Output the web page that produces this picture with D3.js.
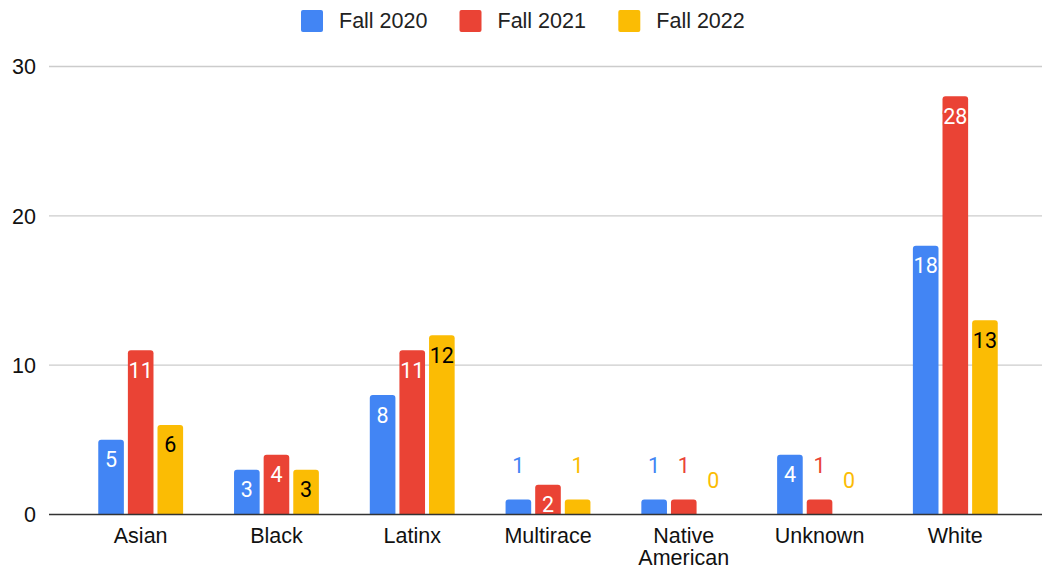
<!DOCTYPE html>
<html>
<head>
<meta charset="utf-8">
<script src="https://cdn.jsdelivr.net/npm/d3@7"></script>
<style>
  body { margin: 0; background: #fff; }
  svg { display: block; }
</style>
</head>
<body>
<svg id="chart" width="1042" height="569"></svg>
<script>
const categories = ["Asian", "Black", "Latinx", "Multirace", "Native American", "Unknown", "White"];
const seriesNames = ["Fall 2020", "Fall 2021", "Fall 2022"];
const fall2020 = [5, 3, 8, 1, 1, 4, 18];
const fall2021 = [11, 4, 11, 2, 1, 1, 28];
const fall2022 = [6, 3, 12, 1, 0, 0, 13];
const yTicks = [0, 10, 20, 30];

const colors = ["#4285f4", "#ea4335", "#fbbc04"];
const labelInside = ["#fff", "#fff", "#000"];
const series = [fall2020, fall2021, fall2022];

const width = 1042, height = 569;
const textFont = "'Liberation Sans', Arial, sans-serif";
const svg = d3.select("#chart");

const x0 = d3.scaleBand()
  .domain(categories)
  .range([72.8, 1023.2])
  .paddingInner(0.375)
  .paddingOuter(0.1875);

const x1 = d3.scaleBand()
  .domain(d3.range(series.length))
  .range([0, x0.bandwidth()])
  .paddingInner(0.135);

const y = d3.scaleLinear().domain([0, 30]).range([514.5, 66.5]);

// gridlines
svg.append("g")
  .selectAll("line")
  .data(yTicks.filter((d) => d !== 0))
  .join("line")
  .attr("x1", 49)
  .attr("x2", width)
  .attr("y1", (d) => y(d))
  .attr("y2", (d) => y(d))
  .attr("stroke", "#cccccc")
  .attr("stroke-width", 1.3);

// y labels
svg.append("g")
  .selectAll("text")
  .data(yTicks)
  .join("text")
  .attr("x", 36)
  .attr("y", (d) => y(d))
  .attr("dy", "0.36em")
  .attr("text-anchor", "end")
  .attr("font-family", textFont)
  .attr("font-size", 21.5)
  .attr("fill", "#111")
  .text((d) => d);

// rounded-top bar path
const barPath = (x, w, top, bottom, r) => {
  const h = bottom - top;
  if (h <= 0) return null;
  r = Math.min(r, h, w / 2);
  return `M${x},${bottom}V${top + r}Q${x},${top} ${x + r},${top}` +
    `H${x + w - r}Q${x + w},${top} ${x + w},${top + r}V${bottom}Z`;
};

const bars = [];
categories.forEach((c, i) => {
  series.forEach((s, k) => {
    bars.push({ cat: c, k, value: s[i] });
  });
});

svg.append("g")
  .selectAll("path")
  .data(bars.filter((d) => d.value > 0))
  .join("path")
  .attr("d", (d) => barPath(x0(d.cat) + x1(d.k), x1.bandwidth(), y(d.value), y(0), 3))
  .attr("fill", (d) => colors[d.k]);

// data labels
svg.append("g")
  .selectAll("text")
  .data(bars)
  .join("text")
  .each(function (d) {
    const inside = y(0) - y(d.value) >= 25;
    const t = d3.select(this)
      .attr("x", x0(d.cat) + x1(d.k) + x1.bandwidth() / 2)
      .attr("text-anchor", "middle")
      .attr("font-family", "Roboto, sans-serif")
      .attr("font-size", 21.5)
      .text(d.value);
    if (inside) {
      t.attr("y", y(d.value) + 27.5)
        .attr("fill", labelInside[d.k])
        .attr("stroke", colors[d.k])
        .attr("stroke-width", 3)
        .attr("paint-order", "stroke");
    } else {
      t.attr("y", y(d.value) - 26.5)
        .attr("fill", colors[d.k]);
    }
  });

// zero line
svg.append("line")
  .attr("x1", 49)
  .attr("x2", width)
  .attr("y1", y(0))
  .attr("y2", y(0))
  .attr("stroke", "#333")
  .attr("stroke-width", 1.5);

// category labels, wrapped on spaces
svg.append("g")
  .selectAll("text")
  .data(categories)
  .join("text")
  .attr("y", 543)
  .attr("text-anchor", "middle")
  .attr("font-family", textFont)
  .attr("font-size", 21.5)
  .attr("fill", "#111")
  .each(function (d) {
    const el = d3.select(this);
    d.split(" ").forEach((w, i) => {
      el.append("tspan")
        .attr("x", x0(d) + x0.bandwidth() / 2)
        .attr("dy", i === 0 ? 0 : 22)
        .text(w);
    });
  });

// legend
const legendX = [301, 459.5, 618.3];
const legend = svg.append("g")
  .selectAll("g")
  .data(seriesNames)
  .join("g")
  .attr("transform", (d, i) => `translate(${legendX[i]},0)`);

legend.append("rect")
  .attr("x", 0)
  .attr("y", 10)
  .attr("width", 22)
  .attr("height", 22)
  .attr("rx", 2)
  .attr("fill", (d, i) => colors[i]);

legend.append("text")
  .attr("x", 38)
  .attr("y", 28)
  .attr("font-family", textFont)
  .attr("font-size", 21.5)
  .attr("fill", "#222")
  .text((d) => d);
</script>
</body>
</html>
